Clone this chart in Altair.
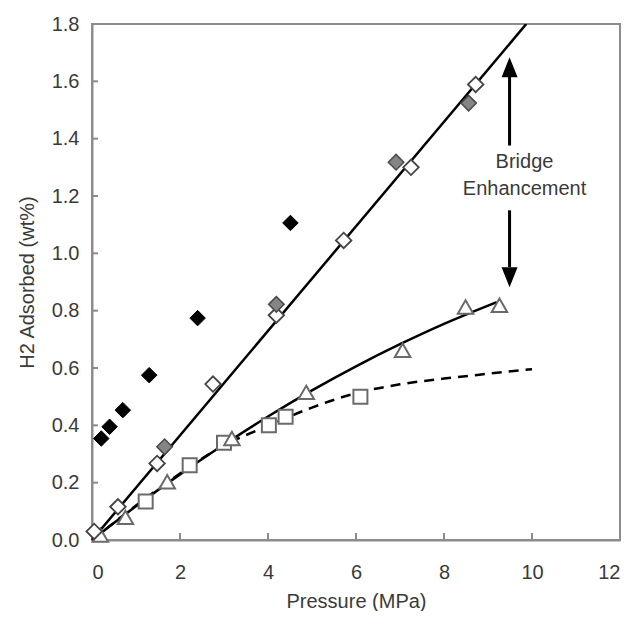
import altair as alt
import pandas as pd

# ---- data ----
black_x = [0.21, 0.40, 0.70, 1.30, 2.40, 4.51]
black_y = [0.354, 0.395, 0.453, 0.575, 0.774, 1.106]

gray_x = [1.65, 4.19, 6.91, 8.56]
gray_y = [0.325, 0.822, 1.318, 1.524]

white_x = [0.05, 0.59, 1.48, 2.75, 4.19, 5.72, 7.25, 8.72]
white_y = [0.03, 0.116, 0.267, 0.544, 0.784, 1.045, 1.30, 1.589]

tri_x = [0.19, 0.76, 1.71, 3.18, 4.87, 7.06, 8.49, 9.26]
tri_y = [0.017, 0.079, 0.203, 0.354, 0.515, 0.662, 0.813, 0.819]

sq_x = [1.22, 2.22, 3.00, 4.02, 4.40, 6.10]
sq_y = [0.134, 0.261, 0.339, 0.400, 0.430, 0.500]

line_x = [0, 9.87]
line_y = [0, 1.80]

curve_x = [0, 1, 2, 3, 4, 5, 6, 7, 8, 9.2]
curve_y = [0, 0.118, 0.229, 0.333, 0.431, 0.522, 0.606, 0.683, 0.754, 0.830]

dash_x = [0, 1, 2, 3, 4, 5, 6, 7, 8, 9, 10]
dash_y = [0, 0.12, 0.232, 0.33, 0.398, 0.462, 0.512, 0.543, 0.563, 0.58, 0.596]

x_ticks = [2, 4, 6, 8, 10]
y_ticks = [0.2, 0.4, 0.6, 0.8, 1.0, 1.2, 1.4, 1.6]

arrow_x = 9.49
up_shaft = [1.376, 1.615]
up_head_y = 1.649
down_shaft = [1.150, 0.952]
down_head_y = 0.917

label_x = [9.83, 9.83]
label_y = [1.318, 1.226]
label_text = ["Bridge", "Enhancement"]

# ---- layout ----
W, H = 528, 516
FONT = "Liberation Sans"
TXT = "#3a3a3a"
AX = "#8c8c8c"


def df(xs, ys):
    return pd.DataFrame({"x": xs, "y": ys})


xaxis = alt.Axis(values=[0, 2, 4, 6, 8, 10, 12], format="d", ticks=False, grid=False,
                 domainColor=AX, domainWidth=2, labelPadding=22, labelFontSize=20,
                 labelFont=FONT, labelColor=TXT, title="Pressure (MPa)",
                 titleFont=FONT, titleFontSize=20, titleFontWeight="normal",
                 titleColor=TXT, titleY=61, titleBaseline="middle")
yaxis = alt.Axis(values=[0, 0.2, 0.4, 0.6, 0.8, 1.0, 1.2, 1.4, 1.6, 1.8], format=".1f",
                 ticks=False, grid=False, domainColor=AX, domainWidth=2,
                 labelPadding=13, labelFontSize=20, labelFont=FONT, labelColor=TXT,
                 title="H2 Adsorbed (wt%)", titleFont=FONT, titleFontSize=20,
                 titleFontWeight="normal", titleColor=TXT, titleAngle=270,
                 titleX=-65, titleY=H / 2, titleBaseline="middle", titleAlign="center")


def X():
    return alt.X("x:Q", scale=alt.Scale(domain=[0, 12], nice=False, zero=False), axis=xaxis)


def Y():
    return alt.Y("y:Q", scale=alt.Scale(domain=[0, 1.8], nice=False, zero=False), axis=yaxis)


lines = [
    alt.Chart(df(line_x, line_y)).mark_line(color="black", strokeWidth=2.5, clip=True).encode(x=X(), y=Y()),
    alt.Chart(df(curve_x, curve_y)).mark_line(color="black", strokeWidth=2.5, interpolate="monotone").encode(x=X(), y=Y()),
    alt.Chart(df(dash_x, dash_y)).mark_line(color="black", strokeWidth=2.5, strokeDash=[10, 7], interpolate="monotone").encode(x=X(), y=Y()),
]

pts = [
    alt.Chart(df(sq_x, sq_y)).mark_point(shape="square", size=196, filled=True, fill="white",
                                         stroke="#6a6a6a", strokeWidth=2, opacity=1).encode(x=X(), y=Y()),
    alt.Chart(df(tri_x, tri_y)).mark_point(shape="triangle-up", size=240, filled=True, fill="white",
                                           stroke="#6a6a6a", strokeWidth=2, opacity=1).encode(x=X(), y=Y()),
    alt.Chart(df(black_x, black_y)).mark_point(shape="diamond", size=240, filled=True, fill="black",
                                               stroke="black", strokeWidth=1, opacity=1).encode(x=X(), y=Y()),
    alt.Chart(df(white_x, white_y)).mark_point(shape="diamond", size=240, filled=True, fill="white",
                                               stroke="#444444", strokeWidth=1.8, opacity=1).encode(x=X(), y=Y()),
    alt.Chart(df(gray_x, gray_y)).mark_point(shape="diamond", size=240, filled=True, fill="#858585",
                                             stroke="#4a4a4a", strokeWidth=1.5, opacity=1).encode(x=X(), y=Y()),
]

xt = alt.Chart(pd.DataFrame({"x": x_ticks})).mark_rule(color=AX, strokeWidth=2).encode(
    x=X(), y=alt.value(H), y2=alt.value(H - 7))
yt = alt.Chart(pd.DataFrame({"y": y_ticks})).mark_rule(color=AX, strokeWidth=2).encode(
    y=Y(), x=alt.value(0), x2=alt.value(6))

shafts = alt.Chart(pd.DataFrame({"x": [arrow_x, arrow_x], "y": [up_shaft[0], down_shaft[0]],
                                 "y2": [up_shaft[1], down_shaft[1]]})).mark_rule(
    color="black", strokeWidth=3).encode(x=X(), y=Y(), y2="y2:Q")
up_head = alt.Chart(df([arrow_x], [up_head_y])).mark_point(
    shape="M0,-1L0.8,1L-0.8,1Z", size=400, filled=True, fill="black", opacity=1, strokeWidth=0).encode(x=X(), y=Y())
down_head = alt.Chart(df([arrow_x], [down_head_y])).mark_point(
    shape="M0,1L0.8,-1L-0.8,-1Z", size=400, filled=True, fill="black", opacity=1, strokeWidth=0).encode(x=X(), y=Y())

labels = alt.Chart(pd.DataFrame({"x": label_x, "y": label_y, "t": label_text})).mark_text(
    font=FONT, fontSize=20, color=TXT, align="center", baseline="middle").encode(x=X(), y=Y(), text="t:N")

chart = alt.layer(xt, yt, *lines, *pts, shafts, up_head, down_head, labels).properties(
    width=W, height=H,
    autosize=alt.AutoSizeParams(type="none"),
    padding={"left": 84, "top": 16, "right": 9, "bottom": 71},
    background="white",
).configure_view(stroke=AX, strokeWidth=2)

chart.save("out.html", embed_options={"renderer": "svg", "actions": False})
